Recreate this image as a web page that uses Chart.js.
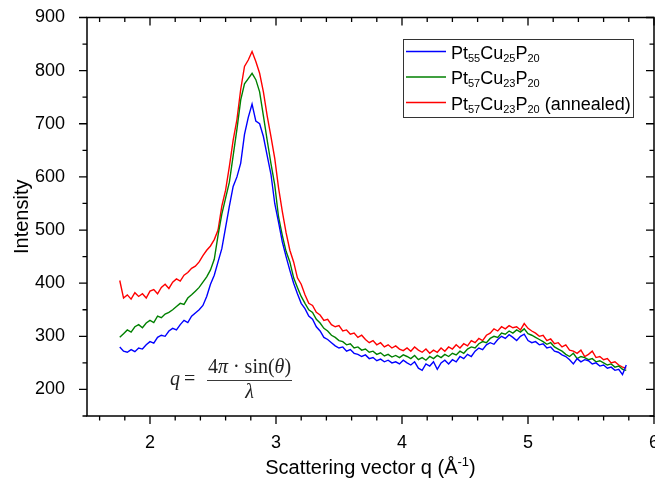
<!DOCTYPE html>
<html>
<head>
<meta charset="utf-8">
<script src="https://cdn.jsdelivr.net/npm/chart.js@4/dist/chart.umd.min.js"></script>
<style>
  html, body { margin: 0; padding: 0; background: #fff; }
  #chart { display: block; }
</style>
</head>
<body>
<canvas id="chart" width="655" height="485"></canvas>
<script>
// scattering vector samples: q = 1.76 .. 5.78, step 0.03
const qStart = 1.76;
const qStep = 0.03;

const intensityPt55 = [
  280, 272, 270, 275, 271, 278, 276, 284, 290, 287, 298, 302, 300, 310, 315, 312, 322, 330, 326, 338,
  344, 350, 358, 375, 398, 415, 440, 465, 505, 545, 582, 600, 626, 680, 712, 737, 705, 700, 676, 640,
  605, 550, 515, 478, 450, 424, 400, 380, 362, 352, 338, 332, 318, 310, 298, 294, 288, 282, 278, 280,
  272, 275, 268, 266, 262, 265, 258, 260, 254, 257, 252, 255, 250, 252, 248, 255, 250, 246, 252, 240,
  236, 248, 244, 252, 238, 250, 255, 248, 256, 252, 262, 258, 266, 262, 272, 278, 275, 284, 288, 285,
  294, 300, 296, 303, 298, 292, 300, 304, 292, 288, 290, 284, 286, 278, 280, 272, 270, 265, 262, 256,
  248, 258, 252, 256, 254, 248, 250, 244, 246, 240, 242, 236, 238, 228, 246
];

const intensityPt57 = [
  298, 305, 312, 308, 318, 322, 316, 325, 330, 326, 338, 335, 342, 345, 350, 356, 362, 360, 372, 378,
  385, 392, 402, 412, 425, 445, 490, 530, 560, 590, 640, 690, 745, 775, 785, 795, 783, 760, 715, 669,
  625, 585, 525, 490, 460, 440, 410, 392, 375, 362, 350, 345, 332, 325, 315, 310, 302, 298, 292, 290,
  284, 286, 278, 280, 274, 276, 270, 272, 266, 269, 263, 266, 261, 264, 260, 265, 262, 258, 264, 256,
  260, 255, 262, 258, 264, 260, 266, 262, 268, 265, 272, 268, 276, 280, 278, 286, 290, 288, 296, 300,
  298, 306, 304, 310, 306, 312, 308, 314, 305, 302, 298, 294, 290, 285, 288, 280, 276, 272, 266, 262,
  268, 258, 262, 260, 256, 258, 252, 254, 250, 246, 248, 242, 244, 238, 236
];

const intensityPt57Annealed = [
  405, 372, 378, 370, 382, 375, 380, 372, 385, 388, 380, 392, 398, 390, 402, 408, 404, 415, 420, 428,
  432, 440, 452, 462, 470, 482, 500, 545, 575, 620, 669, 708, 765, 808, 820, 836, 817, 795, 760, 715,
  676, 635, 580, 535, 495, 462, 440, 410, 398, 378, 362, 358, 345, 340, 330, 332, 322, 318, 320, 310,
  312, 304, 306, 298, 302, 294, 288, 292, 284, 288, 280, 284, 278, 282, 276, 273, 278, 272, 280, 274,
  270, 276, 268, 274, 270, 278, 272, 280, 276, 284, 278, 286, 282, 292, 288, 296, 292, 302, 306, 314,
  310, 318, 314, 320, 316, 318, 312, 324, 315, 310, 306, 300, 302, 292, 295, 286, 288, 280, 284, 274,
  272, 268, 274, 262, 266, 272, 260, 262, 256, 258, 250, 252, 246, 242, 240
];

const seriesLabels = ["Pt_55Cu_25P_20", "Pt_57Cu_23P_20", "Pt_57Cu_23P_20 (annealed)"];
const seriesColors = ["#0000ff", "#008000", "#ff0000"];
const xTicks = [2, 3, 4, 5, 6];
const yTicks = [200, 300, 400, 500, 600, 700, 800, 900];

const sansFont = '"Liberation Sans", Arial, sans-serif';
const serifFont = '"Liberation Serif", "Times New Roman", serif';

function toPoints(values) {
  return values.map((v, i) => ({ x: +(qStart + i * qStep).toFixed(2), y: v }));
}

// text with _NN subscripts
function drawRich(ctx, str, x, baseline, size, subSize) {
  const parts = str.split(/(_\d+)/).filter((p) => p.length);
  parts.forEach((p) => {
    if (p[0] === "_") {
      ctx.font = subSize + "px " + sansFont;
      ctx.fillText(p.slice(1), x, baseline + 3);
      x += ctx.measureText(p.slice(1)).width;
    } else {
      ctx.font = size + "px " + sansFont;
      ctx.fillText(p, x, baseline);
      x += ctx.measureText(p).width;
    }
  });
}

function drawPieces(ctx, pieces, cx, baseline) {
  let w = 0;
  pieces.forEach((p) => {
    ctx.font = p[1];
    w += ctx.measureText(p[0]).width;
  });
  let x = cx - w / 2;
  pieces.forEach((p) => {
    ctx.font = p[1];
    ctx.fillText(p[0], x, baseline);
    x += ctx.measureText(p[0]).width;
  });
}

const framePlugin = {
  id: "frame",
  afterDraw(chart) {
    const { ctx, chartArea: a, scales } = chart;
    const xs = scales.x;
    const ys = scales.y;
    ctx.save();
    ctx.strokeStyle = "#000";
    ctx.lineWidth = 1.5;
    ctx.strokeRect(a.left, a.top, a.right - a.left, a.bottom - a.top);

    ctx.lineWidth = 1.3;
    ctx.beginPath();
    for (let k = 16; k <= 60; k += 2) {
      const v = k / 10;
      const px = xs.getPixelForValue(v);
      const len = k % 10 === 0 ? 8 : 4.5;
      ctx.moveTo(px, a.bottom);
      ctx.lineTo(px, a.bottom + len);
      ctx.moveTo(px, a.top);
      ctx.lineTo(px, a.top + len);
    }
    for (let v = 150; v <= 900; v += 50) {
      const py = ys.getPixelForValue(v);
      const len = v % 100 === 0 ? 8 : 4.5;
      ctx.moveTo(a.left - len, py);
      ctx.lineTo(a.left, py);
      ctx.moveTo(a.right - len, py);
      ctx.lineTo(a.right, py);
    }
    ctx.stroke();

    // axis titles
    ctx.fillStyle = "#000";
    ctx.textBaseline = "alphabetic";
    ctx.font = "20px " + sansFont;
    const t1 = "Scattering vector q (Å";
    const t2 = "-1";
    const t3 = ")";
    const w1 = ctx.measureText(t1).width;
    const w3 = ctx.measureText(t3).width;
    ctx.font = "13px " + sansFont;
    const w2 = ctx.measureText(t2).width;
    let tx = (a.left + a.right) / 2 - (w1 + w2 + w3) / 2;
    ctx.font = "20px " + sansFont;
    ctx.fillText(t1, tx, 474);
    ctx.font = "13px " + sansFont;
    ctx.fillText(t2, tx + w1, 466);
    ctx.font = "20px " + sansFont;
    ctx.fillText(t3, tx + w1 + w2, 474);

    ctx.save();
    ctx.translate(28, (a.top + a.bottom) / 2);
    ctx.rotate(-Math.PI / 2);
    ctx.textAlign = "center";
    ctx.fillText("Intensity", 0, 0);
    ctx.restore();

    // legend
    ctx.fillStyle = "#fff";
    ctx.fillRect(403.5, 39.5, 230, 78);
    ctx.strokeStyle = "#333";
    ctx.lineWidth = 1;
    ctx.strokeRect(403.5, 39.5, 230, 78);
    seriesLabels.forEach((label, i) => {
      const ry = 51.5 + i * 25.5;
      ctx.strokeStyle = seriesColors[i];
      ctx.lineWidth = 1.5;
      ctx.beginPath();
      ctx.moveTo(406, ry);
      ctx.lineTo(446, ry);
      ctx.stroke();
      ctx.fillStyle = "#000";
      drawRich(ctx, label, 451, ry + 7, 18, 11);
    });

    // formula q = 4π·sin(θ)/λ
    ctx.fillStyle = "#222";
    const rom = "20px " + serifFont;
    const ita = "italic 20px " + serifFont;
    ctx.font = ita;
    ctx.fillText("q", 170, 385);
    ctx.font = rom;
    ctx.fillText("=", 184, 385);
    ctx.strokeStyle = "#222";
    ctx.lineWidth = 0.9;
    ctx.beginPath();
    ctx.moveTo(207, 380.5);
    ctx.lineTo(292, 380.5);
    ctx.stroke();
    drawPieces(ctx, [["4", rom], ["π", ita], [" · ", rom], ["sin", rom], ["(", rom], ["θ", ita], [")", rom]], 249.5, 373);
    drawPieces(ctx, [["λ", ita]], 249.5, 398);
    ctx.restore();
  }
};

const ctx = document.getElementById("chart");

new Chart(ctx, {
  type: "line",
  data: {
    datasets: [
      { label: "Pt55Cu25P20", data: toPoints(intensityPt55), borderColor: seriesColors[0] },
      { label: "Pt57Cu23P20", data: toPoints(intensityPt57), borderColor: seriesColors[1] },
      { label: "Pt57Cu23P20 (annealed)", data: toPoints(intensityPt57Annealed), borderColor: seriesColors[2] },
    ],
  },
  options: {
    responsive: false,
    animation: false,
    devicePixelRatio: 1,
    layout: { padding: { top: 17.5, right: 1, left: 0, bottom: 0 } },
    elements: {
      point: { radius: 0 },
      line: { borderWidth: 1.4, tension: 0 },
    },
    plugins: {
      legend: { display: false },
      tooltip: { enabled: false },
    },
    scales: {
      x: {
        type: "linear",
        min: 1.5,
        max: 6,
        grid: { display: false },
        border: { display: false },
        ticks: { color: "#000", font: { size: 18, family: sansFont }, padding: 8, maxRotation: 0 },
        afterBuildTicks: (s) => { s.ticks = xTicks.map((v) => ({ value: v })); },
        afterFit: (s) => { s.height = 69; s.paddingLeft = 0; s.paddingRight = 0; },
      },
      y: {
        min: 150,
        max: 900,
        grid: { display: false },
        border: { display: false },
        ticks: { color: "#000", font: { size: 18, family: sansFont }, padding: 14 },
        afterBuildTicks: (s) => { s.ticks = yTicks.map((v) => ({ value: v })); },
        afterFit: (s) => { s.width = 87; s.paddingTop = 0; s.paddingBottom = 0; },
      },
    },
  },
  plugins: [framePlugin],
});
</script>
</body>
</html>
